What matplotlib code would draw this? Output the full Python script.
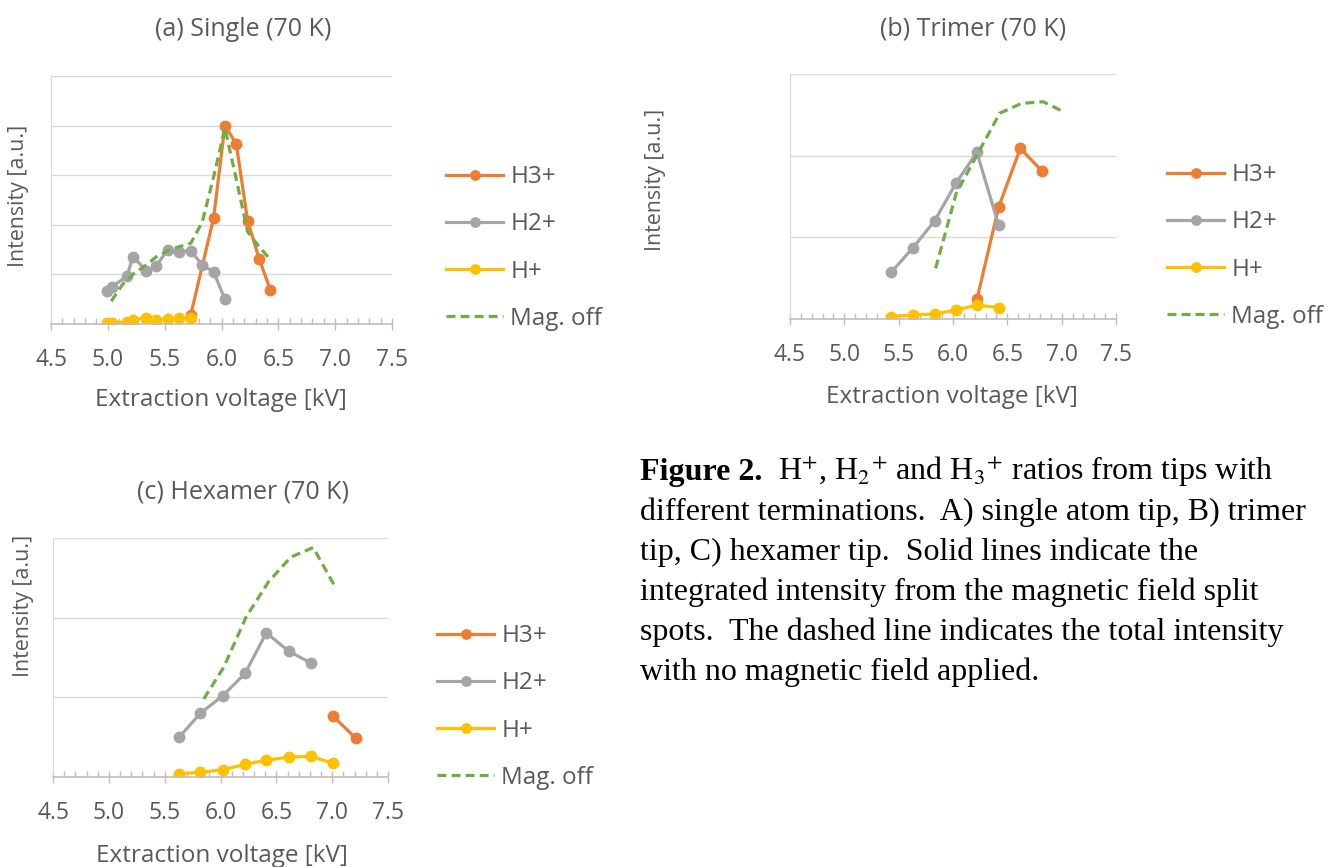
import matplotlib
matplotlib.use("Agg")
import matplotlib.pyplot as plt
from matplotlib.ticker import MultipleLocator

# ---- data (intensity in gridline units) ----
# (a) Single (70 K)
a_h3_x = [5.73, 5.93, 6.03, 6.13, 6.23, 6.33, 6.43]
a_h3_y = [0.19, 2.13, 4.00, 3.63, 2.08, 1.32, 0.69]
a_h2_x = [4.99, 5.04, 5.17, 5.22, 5.34, 5.42, 5.53, 5.63, 5.73, 5.83, 5.93, 6.03]
a_h2_y = [0.67, 0.75, 0.97, 1.36, 1.07, 1.16, 1.50, 1.46, 1.48, 1.19, 1.05, 0.50]
a_h1_x = [4.99, 5.04, 5.17, 5.22, 5.34, 5.42, 5.53, 5.63, 5.73]
a_h1_y = [0.02, 0.03, 0.04, 0.09, 0.13, 0.08, 0.10, 0.13, 0.12]
a_off_x = [5.03, 5.13, 5.23, 5.33, 5.43, 5.53, 5.63, 5.73, 5.83, 5.93, 6.03, 6.13, 6.23, 6.33, 6.43]
a_off_y = [0.46, 0.80, 1.02, 1.18, 1.36, 1.48, 1.56, 1.63, 2.05, 2.96, 3.95, 2.92, 1.86, 1.56, 1.30]

# (b) Trimer (70 K)
b_h3_x = [6.22, 6.42, 6.62, 6.82]
b_h3_y = [0.24, 1.37, 2.09, 1.81]
b_h2_x = [5.43, 5.63, 5.83, 6.03, 6.22, 6.42]
b_h2_y = [0.57, 0.87, 1.20, 1.67, 2.04, 1.15]
b_h1_x = [5.43, 5.63, 5.83, 6.03, 6.22, 6.42]
b_h1_y = [0.03, 0.05, 0.06, 0.11, 0.17, 0.14]
b_off_x = [5.84, 6.03, 6.23, 6.43, 6.63, 6.83, 7.03]
b_off_y = [0.62, 1.54, 2.03, 2.52, 2.64, 2.66, 2.53]

# (c) Hexamer (70 K)
c_h3_x = [7.01, 7.21]
c_h3_y = [0.76, 0.49]
c_h2_x = [5.63, 5.82, 6.02, 6.22, 6.41, 6.61, 6.81]
c_h2_y = [0.50, 0.80, 1.02, 1.30, 1.81, 1.58, 1.43]
c_h1_x = [5.63, 5.82, 6.02, 6.22, 6.41, 6.61, 6.81, 7.01]
c_h1_y = [0.04, 0.06, 0.09, 0.16, 0.21, 0.25, 0.26, 0.17]
c_off_x = [5.85, 6.03, 6.23, 6.43, 6.63, 6.83, 7.03]
c_off_y = [0.98, 1.38, 2.01, 2.45, 2.76, 2.88, 2.38]

series_names = ["H3+", "H2+", "H+", "Mag. off"]
x_ticks = [4.5, 5.0, 5.5, 6.0, 6.5, 7.0, 7.5]

caption_lines = [
    r"H$^{+}$, H$_{2}$$^{+}$ and H$_{3}$$^{+}$ ratios from tips with",
    "different terminations.  A) single atom tip, B) trimer",
    "tip, C) hexamer tip.  Solid lines indicate the",
    "integrated intensity from the magnetic field split",
    "spots.  The dashed line indicates the total intensity",
    "with no magnetic field applied.",
]

ORANGE, GRAY, YELLOW, GREEN = "#ED7D31", "#A5A5A5", "#FFC000", "#70AD47"
TXT = "#595959"
W, H = 1328, 867

plt.rcParams["font.family"] = ["Open Sans", "DejaVu Sans"]
plt.rcParams["mathtext.fontset"] = "stix"

fig = plt.figure(figsize=(W / 100, H / 100), dpi=100)


def add_panel(box, ymax, title, title_xy, xlabel_xy, ylabel_xy, leg_xy, data):
    left, top, right, bottom = box
    ax = fig.add_axes([left / W, 1 - bottom / H, (right - left) / W, (bottom - top) / H])
    (h3x, h3y), (h2x, h2y), (h1x, h1y), (offx, offy) = data
    ax.plot(h3x, h3y, color=ORANGE, lw=2.3, marker="o", ms=7.5, mec=ORANGE, label=series_names[0])
    ax.plot(h2x, h2y, color=GRAY, lw=2.3, marker="o", ms=7.5, mec=GRAY, label=series_names[1])
    ax.plot(h1x, h1y, color=YELLOW, lw=2.3, marker="o", ms=7.5, mec=YELLOW, label=series_names[2])
    ax.plot(offx, offy, color=GREEN, lw=2.3, ls=(0, (2.8, 1.6)), label=series_names[3])

    ax.set_xlim(4.5, 7.5)
    ax.set_ylim(0, ymax)
    ax.set_xticks(x_ticks)
    ax.set_xticklabels([f"{t:.1f}" for t in x_ticks])
    ax.xaxis.set_minor_locator(MultipleLocator(0.1))
    ax.set_yticks(range(0, ymax + 1))
    ax.grid(axis="y", color="#d9d9d9", lw=1.0)
    ax.set_axisbelow(True)
    ax.tick_params(axis="y", left=False, labelleft=False)
    ax.tick_params(axis="x", which="major", direction="inout", length=9, width=1.0,
                   color="#bfbfbf", labelsize=16.5, labelcolor=TXT, pad=13)
    ax.tick_params(axis="x", which="minor", direction="in", length=4.5, width=1.0, color="#bfbfbf")
    for s in ["top", "right"]:
        ax.spines[s].set_visible(False)
    ax.spines["left"].set_color("#d9d9d9")
    ax.spines["bottom"].set_color("#bfbfbf")
    ax.spines["bottom"].set_linewidth(1.2)

    fig.text(title_xy[0] / W, 1 - title_xy[1] / H, title, ha="center", va="center",
             fontsize=18, color=TXT)
    fig.text(xlabel_xy[0] / W, 1 - xlabel_xy[1] / H, "Extraction voltage [kV]", ha="center",
             va="center", fontsize=17.5, color=TXT)
    fig.text(ylabel_xy[0] / W, 1 - ylabel_xy[1] / H, "Intensity [a.u.]", ha="center",
             va="center", rotation=90, fontsize=15.4, color=TXT)

    leg = ax.legend(loc="center left", bbox_to_anchor=(leg_xy[0] / W, 1 - leg_xy[1] / H),
                    bbox_transform=fig.transFigure, frameon=False, fontsize=17.5,
                    handlelength=2.35, handletextpad=0.3, labelspacing=0.95,
                    borderpad=0, borderaxespad=0, numpoints=1, markerscale=0.9)
    for t in leg.get_texts():
        t.set_color(TXT)
    return ax


add_panel((51, 76, 392, 324), 5, "(a) Single (70 K)", (243, 29), (221, 400), (19, 196), (446, 248),
          [(a_h3_x, a_h3_y), (a_h2_x, a_h2_y), (a_h1_x, a_h1_y), (a_off_x, a_off_y)])
add_panel((790, 74, 1116, 319), 3, "(b) Trimer (70 K)", (973, 29), (952, 397), (656, 180), (1167, 246),
          [(b_h3_x, b_h3_y), (b_h2_x, b_h2_y), (b_h1_x, b_h1_y), (b_off_x, b_off_y)])
add_panel((53, 538, 388, 777), 3, "(c) Hexamer (70 K)", (243, 492), (222, 856), (23, 606), (437, 707),
          [(c_h3_x, c_h3_y), (c_h2_x, c_h2_y), (c_h1_x, c_h1_y), (c_off_x, c_off_y)])

# caption
cap_x, cap_y0, cap_dy = 640, 480, 40
serif = ["Liberation Serif", "DejaVu Serif"]
head = fig.text(cap_x / W, 1 - cap_y0 / H, "Figure 2.", fontsize=23, fontweight="bold",
                family=serif, va="baseline", ha="left", color="black")
fig.canvas.draw()
bb = head.get_window_extent()
fig.text((bb.x1 + 16) / W, 1 - cap_y0 / H, caption_lines[0], fontsize=23, family=serif,
         va="baseline", ha="left", color="black")
for i, line in enumerate(caption_lines[1:], start=1):
    fig.text(cap_x / W, 1 - (cap_y0 + i * cap_dy) / H, line, fontsize=23, family=serif,
             va="baseline", ha="left", color="black")

fig.savefig("out.png", dpi=100)
